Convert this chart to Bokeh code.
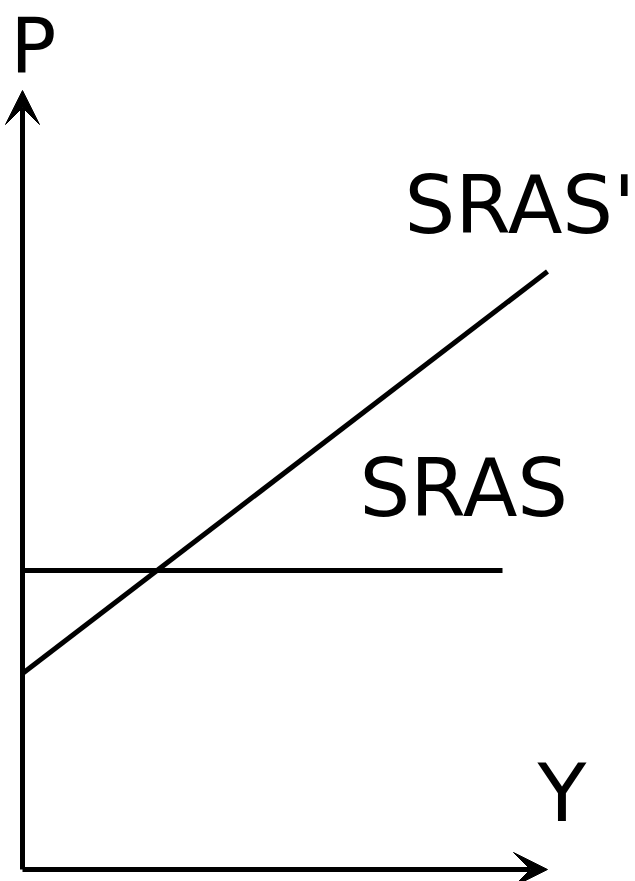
from bokeh.plotting import figure
from bokeh.models import Range1d, Arrow, VeeHead, ColumnDataSource
from bokeh.core.properties import value
from bokeh.embed import file_html
from bokeh.resources import INLINE

# Data (arbitrary units, origin at the axes' corner)
y_axis_end = 779          # P axis length
x_axis_end = 525          # Y axis length
sras_x = [0, 480]
sras_p = [299, 299]
sras_prime_x = [0, 525]
sras_prime_p = [196, 598]

label_text = ["P", "Y", "SRAS", "SRAS'"]
label_x = [-12, 515, 337, 382]
label_y = [823, 76, 381, 664]
label_size = ["76px", "80px", "80px", "80px"]

p = figure(width=635, height=881, output_backend="svg", toolbar_location=None,
           x_range=Range1d(-22, 613), y_range=Range1d(-12, 869), min_border=0)
p.axis.visible = False
p.grid.visible = False
p.outline_line_color = None
p.background_fill_color = "white"
p.border_fill_color = "white"

# axes with arrow heads
p.add_layout(Arrow(end=VeeHead(size=34, fill_color="black", line_color="black", line_width=1),
                   x_start=0, y_start=0, x_end=0, y_end=y_axis_end,
                   line_width=5, line_color="black"))
p.add_layout(Arrow(end=VeeHead(size=34, fill_color="black", line_color="black", line_width=1),
                   x_start=0, y_start=0, x_end=x_axis_end, y_end=0,
                   line_width=5, line_color="black"))

p.line(sras_x, sras_p, line_width=5, line_color="black")
p.line(sras_prime_x, sras_prime_p, line_width=5, line_color="black")

src = ColumnDataSource(dict(x=label_x, y=label_y, t=label_text, s=label_size))
p.text(x="x", y="y", text="t", source=src, text_font=value("DejaVu Sans"),
       text_font_size="s", text_align="left", text_baseline="alphabetic",
       text_color="black")

open("out.html", "w").write(file_html(p, INLINE))
